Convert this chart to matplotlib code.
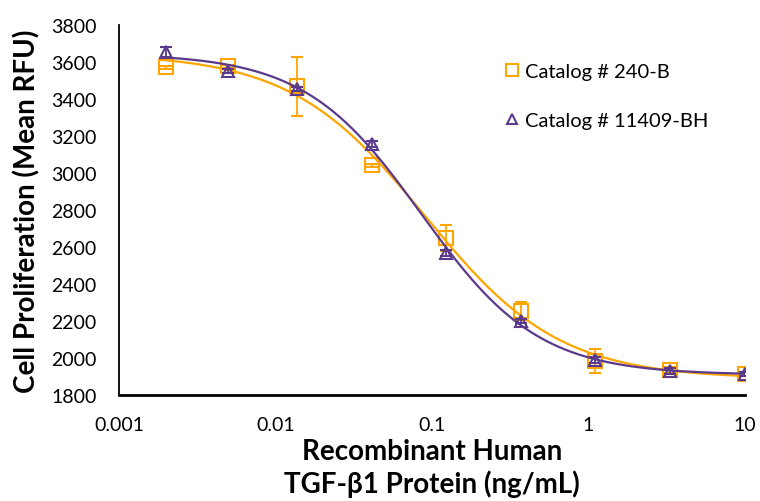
import numpy as np
import matplotlib.pyplot as plt

plt.rcParams['font.family'] = ['Lato', 'DejaVu Sans']

# concentration (ng/mL)
conc = [0.002, 0.005, 0.0137, 0.0412, 0.123, 0.37, 1.11, 3.33, 10.0]

# Catalog # 240-B
rfu_240b = [3573, 3578, 3470, 3043, 2649, 2254, 1984, 1935, 1912]
err_240b = [8, 8, 160, 8, 70, 50, 65, 15, 10]

# Catalog # 11409-BH
rfu_11409 = [3654, 3551, 3454, 3157, 2568, 2200, 1989, 1930, 1914]
err_11409 = [25, 10, 12, 15, 15, 12, 15, 15, 10]

orange = "#FFA500"
purple = "#5B3A8C"


def four_pl(p, lx):
    top, bottom, lc, hill = p
    return bottom + (top - bottom) / (1 + 10 ** (hill * (lx - lc)))


def fit_4pl(x, y):
    # small levenberg-marquardt, numpy only
    lx = np.log10(x)
    y = np.asarray(y, float)
    p = np.array([y.max(), y.min(), np.log10(0.08), 1.0])
    lam = 1e-2
    for it in range(200):
        r = y - four_pl(p, lx)
        J = np.zeros((len(lx), 4))
        for k in range(4):
            dp = np.zeros(4)
            dp[k] = 1e-6 * max(1, abs(p[k]))
            J[:, k] = (four_pl(p + dp, lx) - four_pl(p, lx)) / dp[k]
        A = J.T @ J
        g = J.T @ r
        step = np.linalg.solve(A + lam * np.diag(np.diag(A)), g)
        pn = p + step
        if np.sum((y - four_pl(pn, lx)) ** 2) < np.sum(r ** 2):
            p = pn
            lam *= 0.3
        else:
            lam *= 10
    return p


fig, ax = plt.subplots(figsize=(7.6, 5.02), dpi=100)
fig.subplots_adjust(left=0.1566, right=0.980, bottom=0.2112, top=0.948)

xs = np.logspace(np.log10(conc[0]), np.log10(conc[-1]), 300)

p1 = fit_4pl(conc, rfu_240b)
ax.plot(xs, four_pl(p1, np.log10(xs)), color=orange, lw=1.6, zorder=2)
ax.errorbar(conc, rfu_240b, yerr=err_240b, fmt='s', ms=10, mfc='none',
            mec=orange, mew=1.5, ecolor=orange, elinewidth=1.3, capsize=4,
            capthick=1.3, zorder=3, label="Catalog # 240-B")

p2 = fit_4pl(conc, rfu_11409)
ax.plot(xs, four_pl(p2, np.log10(xs)), color=purple, lw=1.6, zorder=4)
ax.errorbar(conc, rfu_11409, yerr=err_11409, fmt='^', ms=9, mfc='none',
            mec=purple, mew=1.5, ecolor=purple, elinewidth=1.3, capsize=4,
            capthick=1.3, zorder=5, label="Catalog # 11409-BH")

ax.set_xscale('log')
ax.set_xlim(0.001, 10)
ax.set_ylim(1800, 3800)
ax.set_yticks(np.arange(1800, 3801, 200))
ax.set_xticks([0.001, 0.01, 0.1, 1, 10])
ax.set_xticklabels(["0.001", "0.01", "0.1", "1", "10"])
ax.minorticks_off()
ax.tick_params(length=0, labelsize=14)
ax.tick_params(axis='x', pad=15)
ax.tick_params(axis='y', pad=16)
for s in ['top', 'right']:
    ax.spines[s].set_visible(False)
ax.spines['left'].set_linewidth(1.3)
ax.spines['bottom'].set_linewidth(2)

ax.set_xlabel("Recombinant Human\nTGF-β1 Protein (ng/mL)", fontsize=20,
              fontweight='bold', linespacing=1.25)
ax.xaxis.set_label_coords(0.5, -0.1165)
ax.set_ylabel("Cell Proliferation (Mean RFU)", fontsize=20, fontweight='bold',
              labelpad=8)

h, l = ax.get_legend_handles_labels()
h = [hh[0] for hh in h]
ax.legend(h, l, loc='upper left', bbox_to_anchor=(0.582, 0.948), frameon=False,
          fontsize=14.5, handletextpad=0.05, labelspacing=1.6, handlelength=1.1,
          markerscale=0.8)

plt.savefig('out.png', dpi=100)
